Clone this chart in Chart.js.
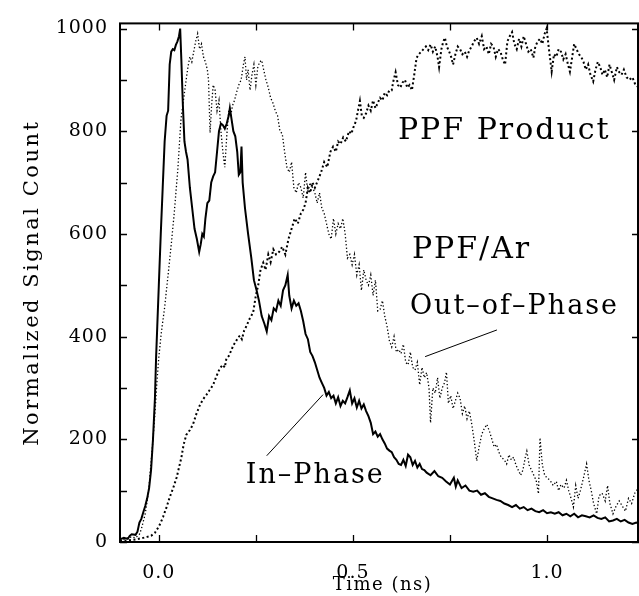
<!DOCTYPE html>
<html>
<head>
<meta charset="utf-8">
<script src="https://cdn.jsdelivr.net/npm/chart.js@4.4.1/dist/chart.umd.min.js"></script>
<style>
  html, body { margin: 0; padding: 0; background: #fff; }
  #wrap { width: 639px; height: 596px; }
</style>
</head>
<body>
<div id="wrap"><canvas id="chart" width="639" height="596"></canvas></div>
<script>
// Time axis (ns) and signal for the in-phase trace (solid)
const inPhaseTime = [
  -0.100, -0.090, -0.080, -0.075, -0.070, -0.060, -0.055, -0.050, -0.045, -0.040,
  -0.035, -0.030, -0.025, -0.020, -0.015, -0.010, -0.007, -0.004, 0.000, 0.005,
  0.010, 0.015, 0.020, 0.024, 0.028, 0.032, 0.036, 0.040, 0.044, 0.048,
  0.052, 0.055, 0.058, 0.062, 0.066, 0.070, 0.074, 0.080, 0.086, 0.092,
  0.098, 0.104, 0.108, 0.112, 0.116, 0.120, 0.125, 0.130, 0.135, 0.140,
  0.145, 0.150, 0.155, 0.160, 0.165, 0.170, 0.175, 0.180, 0.183, 0.188,
  0.192, 0.197, 0.202, 0.206, 0.210, 0.213, 0.216, 0.222, 0.230, 0.238,
  0.245, 0.252, 0.258, 0.265, 0.272, 0.278, 0.284, 0.290, 0.296, 0.302,
  0.308, 0.314, 0.320, 0.326, 0.332, 0.336, 0.342, 0.348, 0.354, 0.360,
  0.366, 0.372, 0.378, 0.384, 0.390, 0.396, 0.402, 0.408, 0.414, 0.420,
  0.426, 0.432, 0.438, 0.444, 0.450, 0.456, 0.462, 0.468, 0.474, 0.480,
  0.486, 0.492, 0.498, 0.504, 0.510, 0.516, 0.522, 0.528, 0.534, 0.540,
  0.546, 0.552, 0.558, 0.564, 0.570, 0.576, 0.582, 0.588, 0.594, 0.600,
  0.606, 0.612, 0.618, 0.624, 0.630, 0.636, 0.642, 0.648, 0.654, 0.660,
  0.666, 0.672, 0.678, 0.684, 0.690, 0.700, 0.710, 0.720, 0.730, 0.740,
  0.750, 0.760, 0.765, 0.770, 0.780, 0.790, 0.800, 0.810, 0.820, 0.830,
  0.840, 0.850, 0.860, 0.870, 0.880, 0.890, 0.900, 0.910, 0.920, 0.930,
  0.940, 0.950, 0.960, 0.970, 0.980, 0.990, 1.000, 1.010, 1.020, 1.030,
  1.040, 1.050, 1.060, 1.070, 1.080, 1.090, 1.100, 1.110, 1.120, 1.130,
  1.140, 1.150, 1.160, 1.170, 1.180, 1.190, 1.200, 1.210, 1.220, 1.230, 1.237
];
const inPhase = [
  5, 8, 6, 12, 15, 14, 20, 38, 45, 58,
  70, 85, 105, 140, 200, 280, 360, 420, 500, 600,
  690, 780, 830, 840, 930, 955, 960, 958, 968, 975,
  985, 1000, 940, 850, 780, 760, 745, 690, 650, 610,
  590, 565, 580, 600, 595, 630, 660, 665, 700, 712,
  720, 760, 800, 815, 812, 805, 815, 830, 845, 820,
  800, 790, 760, 715, 720, 770, 700, 650, 600, 555,
  510, 490, 470, 440, 425, 410, 440, 432, 455, 450,
  470, 460, 490, 500, 520, 480, 455, 470, 460, 465,
  450, 430, 405, 395, 370, 362, 350, 335, 320, 310,
  300, 285, 292, 280, 285, 270, 282, 265, 275, 270,
  282, 295, 270, 280, 262, 275, 260, 268, 255, 245,
  232, 210, 215, 205, 210, 200, 192, 182, 178, 175,
  165, 160, 152, 150, 160, 148, 170, 165, 150, 158,
  145, 152, 142, 140, 135, 130, 138, 128, 125, 118,
  112, 125, 108, 120, 105, 110, 100, 98, 100, 92,
  95, 88, 85, 82, 80, 75, 72, 68, 72, 65,
  68, 62, 65, 60, 58, 62, 56, 58, 55, 58,
  52, 55, 50, 55, 48, 52, 50, 48, 52, 47,
  45, 48, 40, 42, 45, 40, 43, 38, 35, 38, 36
];

// Out-of-phase trace (dotted)
const outPhaseTime = [
  -0.100, -0.090, -0.080, -0.070, -0.060, -0.050, -0.045, -0.040, -0.035, -0.030,
  -0.025, -0.020, -0.015, -0.010, -0.005, 0.000, 0.006, 0.015, 0.023, 0.032,
  0.040, 0.049, 0.057, 0.066, 0.075, 0.080, 0.085, 0.090, 0.095, 0.100,
  0.105, 0.110, 0.115, 0.120, 0.125, 0.128, 0.132, 0.136, 0.140, 0.145,
  0.150, 0.155, 0.160, 0.165, 0.170, 0.175, 0.180, 0.185, 0.190, 0.195,
  0.200, 0.206, 0.212, 0.218, 0.222, 0.226, 0.230, 0.235, 0.240, 0.245,
  0.250, 0.255, 0.260, 0.265, 0.270, 0.276, 0.282, 0.288, 0.294, 0.300,
  0.306, 0.312, 0.318, 0.324, 0.330, 0.336, 0.342, 0.348, 0.354, 0.360,
  0.366, 0.372, 0.378, 0.384, 0.390, 0.396, 0.402, 0.408, 0.414, 0.420,
  0.426, 0.432, 0.438, 0.444, 0.450, 0.456, 0.462, 0.468, 0.474, 0.480,
  0.486, 0.492, 0.498, 0.504, 0.510, 0.516, 0.522, 0.528, 0.534, 0.540,
  0.546, 0.552, 0.558, 0.564, 0.570, 0.576, 0.582, 0.588, 0.594, 0.600,
  0.606, 0.612, 0.618, 0.624, 0.630, 0.636, 0.642, 0.648, 0.654, 0.660,
  0.666, 0.672, 0.678, 0.684, 0.690, 0.696, 0.700, 0.706, 0.712, 0.718,
  0.724, 0.730, 0.736, 0.741, 0.746, 0.752, 0.758, 0.764, 0.770, 0.776,
  0.782, 0.788, 0.794, 0.800, 0.806, 0.812, 0.819, 0.825, 0.832, 0.838,
  0.845, 0.852, 0.858, 0.864, 0.870, 0.876, 0.882, 0.890, 0.896, 0.902,
  0.908, 0.914, 0.920, 0.926, 0.932, 0.938, 0.944, 0.948, 0.954, 0.960,
  0.966, 0.972, 0.978, 0.982, 0.988, 0.994, 1.000, 1.008, 1.016, 1.024,
  1.030, 1.036, 1.044, 1.050, 1.056, 1.062, 1.068, 1.074, 1.080, 1.086,
  1.094, 1.102, 1.108, 1.114, 1.120, 1.128, 1.134, 1.142, 1.150, 1.156,
  1.162, 1.170, 1.178, 1.186, 1.194, 1.202, 1.210, 1.218, 1.226, 1.237
];
const outPhase = [
  3, 5, 8, 10, 8, 15, 25, 40, 55, 80,
  110, 155, 200, 250, 310, 360, 405, 457, 514, 579,
  643, 726, 823, 875, 925, 945, 935, 955, 975, 990,
  960, 970, 945, 935, 920, 900, 797, 850, 890, 880,
  840, 860, 800, 760, 730, 790, 840, 830, 850, 860,
  875, 890, 900, 930, 945, 900, 920, 880, 910, 930,
  890, 925, 935, 938, 920, 900, 885, 865, 855, 840,
  830, 800, 795, 760, 730, 720, 740, 690, 680, 700,
  690, 670, 720, 680, 700, 690, 680, 660, 680, 650,
  640, 620, 600, 590, 630, 600, 620, 610, 630, 600,
  553, 560, 540, 560, 520, 540, 490, 530, 510, 500,
  520, 480, 510, 450, 453, 470, 440, 420, 392, 380,
  400, 370, 375, 367, 385, 350, 345, 370, 340, 335,
  350, 306, 340, 320, 330, 300, 232, 300, 290, 320,
  280, 300, 310, 331, 270, 285, 260, 275, 290, 280,
  250, 265, 240, 255, 230, 200, 158, 185, 210, 220,
  229, 215, 200, 185, 190, 175, 165, 160, 152, 170,
  160, 165, 150, 140, 130, 140, 165, 177, 150, 140,
  130, 120, 94, 203, 150, 130, 125, 120, 110, 118,
  100, 112, 105, 120, 100, 85, 68, 110, 85, 100,
  125, 152, 120, 100, 75, 55, 90, 95, 80, 110,
  75, 55, 70, 80, 70, 60, 85, 75, 95, 107
];

// PPF product trace (dashed)
const productTime = [
  -0.100, -0.080, -0.060, -0.040, -0.030, -0.020, -0.010, -0.006, 0.000, 0.005,
  0.011, 0.020, 0.028, 0.037, 0.046, 0.052, 0.058, 0.064, 0.071, 0.080,
  0.088, 0.097, 0.106, 0.114, 0.123, 0.131, 0.140, 0.148, 0.157, 0.165,
  0.170, 0.174, 0.180, 0.186, 0.192, 0.198, 0.204, 0.209, 0.214, 0.220,
  0.226, 0.234, 0.243, 0.250, 0.256, 0.262, 0.269, 0.275, 0.282, 0.288,
  0.295, 0.302, 0.310, 0.318, 0.326, 0.334, 0.342, 0.350, 0.358, 0.366,
  0.372, 0.378, 0.384, 0.390, 0.396, 0.402, 0.410, 0.418, 0.426, 0.434,
  0.442, 0.449, 0.456, 0.462, 0.468, 0.475, 0.482, 0.490, 0.496, 0.501,
  0.508, 0.513, 0.518, 0.523, 0.528, 0.534, 0.540, 0.546, 0.552, 0.558,
  0.564, 0.570, 0.576, 0.582, 0.588, 0.594, 0.600, 0.604, 0.610, 0.616,
  0.622, 0.628, 0.634, 0.640, 0.646, 0.652, 0.658, 0.664, 0.670, 0.676,
  0.682, 0.688, 0.694, 0.700, 0.706, 0.712, 0.718, 0.722, 0.728, 0.733,
  0.737, 0.742, 0.748, 0.753, 0.758, 0.764, 0.770, 0.776, 0.782, 0.788,
  0.794, 0.800, 0.806, 0.812, 0.819, 0.825, 0.832, 0.838, 0.844, 0.850,
  0.856, 0.862, 0.868, 0.874, 0.880, 0.886, 0.892, 0.898, 0.904, 0.910,
  0.916, 0.922, 0.928, 0.934, 0.940, 0.946, 0.952, 0.958, 0.965, 0.970,
  0.976, 0.982, 0.988, 0.994, 0.999, 1.005, 1.012, 1.018, 1.024, 1.030,
  1.036, 1.042, 1.048, 1.054, 1.059, 1.064, 1.070, 1.076, 1.082, 1.088,
  1.094, 1.100, 1.106, 1.112, 1.119, 1.125, 1.131, 1.137, 1.143, 1.149,
  1.155, 1.161, 1.167, 1.173, 1.180, 1.186, 1.192, 1.198, 1.205, 1.212,
  1.220, 1.228, 1.237
];
const product = [
  2, 3, 5, 8, 10, 12, 18, 23, 30, 38,
  49, 68, 87, 105, 126, 145, 164, 190, 209, 218,
  229, 250, 267, 278, 287, 296, 306, 322, 338, 345,
  340, 357, 362, 372, 383, 390, 398, 402, 395, 412,
  421, 435, 447, 480, 500, 530, 544, 530, 560, 545,
  570, 560, 565, 575, 560, 590, 610, 630, 620, 640,
  647, 660, 690, 680, 700, 690, 705, 720, 740, 730,
  760, 770, 760, 780, 775, 788, 780, 800, 795, 807,
  820, 840, 859, 830, 826, 835, 850, 840, 860, 845,
  855, 865, 860, 875, 870, 880, 880, 897, 915, 890,
  885, 895, 900, 885, 890, 880, 910, 943, 950, 955,
  960, 965, 958, 969, 955, 965, 945, 925, 960, 975,
  982, 965, 955, 945, 930, 950, 965, 960, 950, 955,
  945, 958, 965, 975, 982, 970, 985, 960, 965, 950,
  970, 965, 945, 960, 955, 940, 930, 975, 985, 993,
  970, 960, 980, 965, 985, 970, 955, 960, 943, 965,
  975, 980, 970, 990, 1000, 960, 916, 950, 945, 960,
  955, 940, 950, 930, 916, 940, 970, 960, 950, 945,
  935, 920, 930, 910, 897, 920, 935, 925, 910, 920,
  905, 930, 915, 900, 925, 915, 910, 920, 905, 900,
  905, 890, 885
];

// Axis ticks
const xTicks = [0, 0.25, 0.5, 0.75, 1.0];
const xLabelled = [0, 0.5, 1.0];
const yTicks = [0, 100, 200, 300, 400, 500, 600, 700, 800, 900, 1000];
const yLabelled = [0, 200, 400, 600, 800, 1000];

// Text labels placed in data units
const notes = [
  { text: "PPF Product", t: 0.616, v: 785, size: 30 },
  { text: "PPF/Ar", t: 0.652, v: 554, size: 30 },
  { text: "Out–of–Phase", t: 0.647, v: 444, size: 27 },
  { text: "In–Phase", t: 0.224, v: 114, size: 27 }
];
const leaders = [
  [[0.871, 413], [0.686, 361]],
  [[0.278, 168], [0.423, 287]]
];

const FONT = "'DejaVu Serif', serif";
Chart.defaults.font.family = FONT;
Chart.defaults.font.size = 19;
Chart.defaults.color = "#000";

const toPoints = (ts, vs) => ts.map((t, i) => ({ x: t, y: vs[i] }));

// Frame, inward ticks, titles and annotations
const framePlugin = {
  id: "frame",
  beforeDraw(chart) {
    chart.ctx.letterSpacing = "1px";
  },
  afterDraw(chart) {
    const { ctx, chartArea: a, scales } = chart;
    const xs = scales.x, ys = scales.y;
    ctx.save();
    ctx.strokeStyle = "#000";
    ctx.fillStyle = "#000";

    // box
    ctx.lineWidth = 2;
    ctx.strokeRect(a.left, a.top, a.right - a.left - 1, a.bottom - a.top);

    // ticks pointing inward
    const len = 7;
    ctx.lineWidth = 1.3;
    ctx.beginPath();
    xTicks.forEach((v) => {
      const px = Math.round(xs.getPixelForValue(v)) + 0.5;
      ctx.moveTo(px, a.bottom); ctx.lineTo(px, a.bottom - len);
      ctx.moveTo(px, a.top); ctx.lineTo(px, a.top + len);
    });
    yTicks.forEach((v) => {
      const py = Math.round(ys.getPixelForValue(v)) + 0.5;
      ctx.moveTo(a.left, py); ctx.lineTo(a.left + len, py);
      if (yLabelled.includes(v)) {
        ctx.moveTo(a.right, py); ctx.lineTo(a.right - len, py);
      }
    });
    ctx.stroke();

    // axis titles
    ctx.letterSpacing = "1.5px";
    ctx.font = "18px " + FONT;
    ctx.textAlign = "center";
    ctx.textBaseline = "alphabetic";
    ctx.fillText("Time (ns)", (a.left + a.right) / 2 + 3, 590);
    ctx.save();
    ctx.translate(33, (a.top + a.bottom) / 2);
    ctx.rotate(-Math.PI / 2);
    ctx.font = "21px " + FONT;
    ctx.letterSpacing = "2.5px";
    ctx.textBaseline = "middle";
    ctx.fillText("Normalized Signal Count", 0, 0);
    ctx.restore();

    // annotations
    ctx.textAlign = "left";
    ctx.textBaseline = "alphabetic";
    notes.forEach((n) => {
      ctx.font = n.size + "px " + FONT;
      ctx.letterSpacing = "2px";
      ctx.fillText(n.text, xs.getPixelForValue(n.t), ys.getPixelForValue(n.v));
    });
    ctx.lineWidth = 1;
    leaders.forEach(([p, q]) => {
      ctx.beginPath();
      ctx.moveTo(xs.getPixelForValue(p[0]), ys.getPixelForValue(p[1]));
      ctx.lineTo(xs.getPixelForValue(q[0]), ys.getPixelForValue(q[1]));
      ctx.stroke();
    });
    ctx.restore();
  }
};

new Chart(document.getElementById("chart"), {
  type: "line",
  data: {
    datasets: [
      {
        label: "In-Phase",
        data: toPoints(inPhaseTime, inPhase),
        borderColor: "#000",
        borderWidth: 2,
        pointRadius: 0,
        tension: 0
      },
      {
        label: "Out-of-Phase",
        data: toPoints(outPhaseTime, outPhase),
        borderColor: "#000",
        borderWidth: 1.3,
        borderDash: [1.3, 2.2],
        pointRadius: 0,
        tension: 0
      },
      {
        label: "PPF Product",
        data: toPoints(productTime, product),
        borderColor: "#000",
        borderWidth: 2,
        borderDash: [2, 2.5],
        pointRadius: 0,
        tension: 0
      }
    ]
  },
  options: {
    responsive: false,
    animation: false,
    layout: { padding: { top: 18, right: 0, left: 0, bottom: 0 } },
    plugins: { legend: { display: false }, tooltip: { enabled: false } },
    scales: {
      x: {
        type: "linear",
        min: -0.1,
        max: 1.237,
        afterBuildTicks: (s) => { s.ticks = xTicks.map((v) => ({ value: v })); },
        afterFit: (s) => { s.height = 54; },
        grid: { display: false, drawTicks: false },
        border: { display: false },
        ticks: {
          padding: 20,
          autoSkip: false,
          maxRotation: 0,
          callback: (v) => (xLabelled.includes(v) ? v.toFixed(1) : "")
        }
      },
      y: {
        min: 0,
        max: 1010,
        afterBuildTicks: (s) => { s.ticks = yTicks.map((v) => ({ value: v })); },
        afterFit: (s) => { s.width = 120; },
        grid: { display: false, drawTicks: false },
        border: { display: false },
        ticks: {
          padding: 12,
          autoSkip: false,
          callback: (v) => (yLabelled.includes(v) ? String(v) : "")
        }
      }
    }
  },
  plugins: [framePlugin]
});
</script>
</body>
</html>
